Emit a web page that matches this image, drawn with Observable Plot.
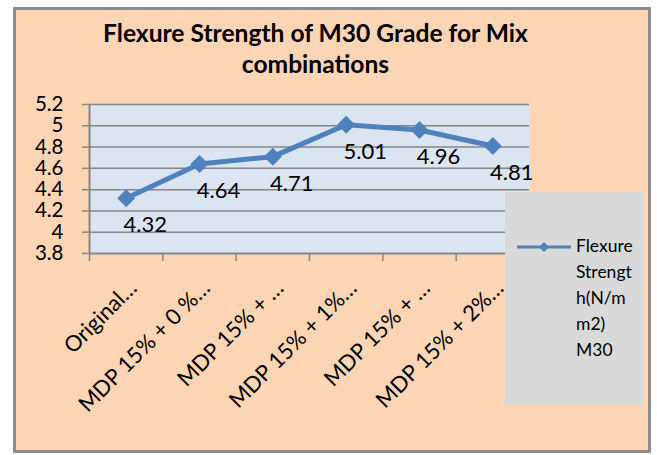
<!DOCTYPE html>
<html>
<head>
<meta charset="utf-8">
<script src="https://cdn.jsdelivr.net/npm/d3@7"></script>
<script src="https://cdn.jsdelivr.net/npm/@observablehq/plot@0.6"></script>
<style>
  html, body { margin: 0; padding: 0; background: #fff; }
  #wrap { position: relative; width: 657px; height: 455px; font-family: Lato, "Open Sans", sans-serif; overflow: hidden; }
  #frame { position: absolute; left: 13px; top: 7px; width: 632px; height: 440px; background: #FCD5B5; border: 3px solid #8C8C8C; }
  #title { position: absolute; left: 0; top: 17px; width: 631px; text-align: center; font-weight: bold; font-size: 24.6px; line-height: 31px; color: #000; }
  #chart { position: absolute; left: 0; top: 0; }
  #legend { position: absolute; left: 505px; top: 192px; width: 139px; height: 213px; background: #D9D9D9; }
  #legend svg { position: absolute; left: 0; top: 0; }
  #legtext { position: absolute; left: 71px; top: 41px; font-size: 17.5px; line-height: 26px; color: #000; }
</style>
</head>
<body>
<div id="wrap">
  <div id="frame"></div>
  <div id="chart"></div>
  <div id="title"></div>
  <div id="legend"></div>
</div>
<script>
const titleLines = ["Flexure Strength of M30 Grade for Mix", "combinations"];
const categories = ["Original…", "MDP 15% + 0 %…", "MDP 15% + …", "MDP 15% + 1%…", "MDP 15% + …", "MDP 15% + 2%…"];
const values = [4.32, 4.64, 4.71, 5.01, 4.96, 4.81];
const yTicks = [3.8, 4, 4.2, 4.4, 4.6, 4.8, 5, 5.2];
const yTickLabels = ["3.8", "4", "4.2", "4.4", "4.6", "4.8", "5", "5.2"];
const valueLabels = ["4.32", "4.64", "4.71", "5.01", "4.96", "4.81"];
const legendLines = ["Flexure", "Strengt", "h(N/m", "m2)", "M30"];

const lineColor = "#4F81BD";
const gridColor = "#868686";

const data = categories.map((c, i) => ({c, i, v: values[i], label: valueLabels[i]}));
const labelFor = new Map(yTicks.map((t, i) => [t, yTickLabels[i]]));
const xPos = d => d.i + 0.5;

const chart = Plot.plot({
  width: 657,
  height: 455,
  marginLeft: 89,
  marginRight: 128,
  marginTop: 104,
  marginBottom: 202,
  x: {type: "linear", domain: [0, categories.length], axis: null},
  y: {domain: [3.8, 5.2], axis: null},
  style: {background: "transparent", overflow: "visible", fontFamily: "Lato, 'Open Sans', sans-serif", color: "#000"},
  marks: [
    Plot.frame({fill: "#DBE5F1", stroke: null}),
    Plot.ruleY(yTicks.slice(1), {stroke: gridColor, strokeWidth: 1.5}),
    Plot.ruleY([3.8], {stroke: gridColor, strokeWidth: 2}),
    Plot.ruleX([0], {stroke: gridColor, strokeWidth: 2}),
    Plot.axisY({ticks: yTicks, label: null, tickSize: 7, tickPadding: 19, tickFormat: d => labelFor.get(d), fontSize: 20.5, stroke: gridColor, strokeWidth: 1.5, fill: "#000", strokeOpacity: 1}),
    Plot.axisX({ticks: d3.range(categories.length), label: null, tickSize: 8, tickFormat: () => "", stroke: gridColor, strokeWidth: 1.5, strokeOpacity: 1}),
    Plot.text(data, {x: xPos, y: () => 3.8, text: "c", rotate: -45, textAnchor: "end", lineAnchor: "bottom", dx: 12, dy: 36, fontSize: 22, fill: "#000"}),
    Plot.line(data, {x: xPos, y: "v", stroke: lineColor, strokeWidth: 5}),
    Plot.dot(data, {x: xPos, y: "v", symbol: "diamond2", r: 8.1, fill: lineColor, stroke: null}),
    Plot.text(data, {x: xPos, y: "v", text: "label", dx: 19, dy: 27, fontSize: 22, fill: "#000"})
  ]
});
document.getElementById("chart").appendChild(chart);

document.getElementById("title").innerHTML = titleLines.join("<br>");

const leg = document.getElementById("legend");
const ns = "http://www.w3.org/2000/svg";
const lsvg = document.createElementNS(ns, "svg");
lsvg.setAttribute("width", 139);
lsvg.setAttribute("height", 213);
const ln = document.createElementNS(ns, "line");
ln.setAttribute("x1", 12); ln.setAttribute("x2", 66);
ln.setAttribute("y1", 55); ln.setAttribute("y2", 55);
ln.setAttribute("stroke", lineColor); ln.setAttribute("stroke-width", 3);
lsvg.appendChild(ln);
const dm = document.createElementNS(ns, "path");
dm.setAttribute("d", "M39,50L44,55L39,60L34,55Z");
dm.setAttribute("fill", lineColor);
lsvg.appendChild(dm);
leg.appendChild(lsvg);
const lt = document.createElement("div");
lt.id = "legtext";
lt.innerHTML = legendLines.join("<br>");
leg.appendChild(lt);
</script>
</body>
</html>
